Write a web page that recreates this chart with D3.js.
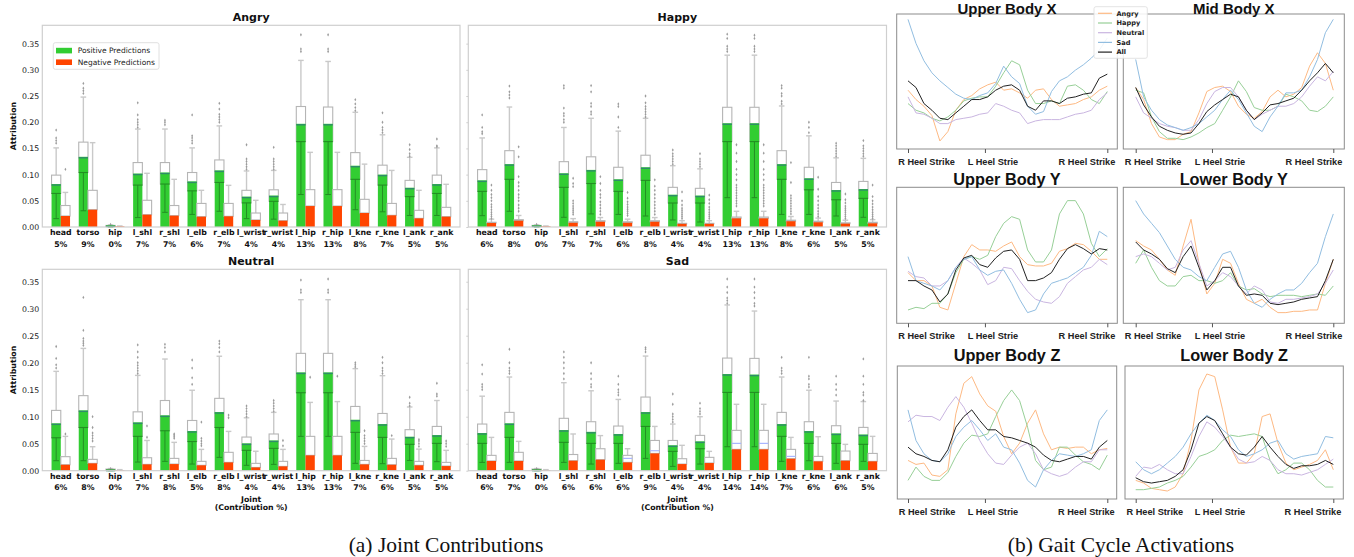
<!DOCTYPE html>
<html><head><meta charset="utf-8">
<script src="https://cdn.jsdelivr.net/npm/d3@7"></script>
<style>body{margin:0;background:#fff}</style>
</head><body>
<script>
// ---------------- (a) Joint contributions data ----------------
const joints = ["head","torso","hip","l_shl","r_shl","l_elb","r_elb","l_wrist","r_wrist","l_hip","r_hip","l_kne","r_kne","l_ank","r_ank"];
const yTicks = [0,0.05,0.10,0.15,0.20,0.25,0.30,0.35];
const topRowYMax = 0.385;
const bottomRowYMax = 0.373;

const angryPct   = [5,9,0,7,7,6,7,4,4,13,13,8,7,5,5];
const happyPct   = [6,8,0,7,7,6,8,4,4,13,13,8,6,5,5];
const neutralPct = [6,8,0,7,8,5,8,4,4,13,13,7,6,5,5];
const sadPct     = [6,7,0,6,6,6,9,4,4,14,14,7,6,6,5];

// Angry
const angryPosMean = [0.082,0.134,0.003,0.102,0.104,0.087,0.108,0.058,0.060,0.197,0.197,0.117,0.100,0.075,0.082];
const angryPosQ1   = [0.064,0.104,0.001,0.080,0.082,0.069,0.085,0.046,0.049,0.163,0.163,0.091,0.080,0.058,0.064];
const angryPosQ3   = [0.099,0.162,0.003,0.123,0.123,0.104,0.128,0.070,0.071,0.230,0.229,0.142,0.118,0.089,0.099];
const angryPosLo   = [0.016,0.031,0.000,0.018,0.028,0.024,0.030,0.016,0.015,0.062,0.062,0.033,0.029,0.022,0.022];
const angryPosHi   = [0.151,0.248,0.004,0.187,0.187,0.151,0.193,0.107,0.108,0.318,0.316,0.219,0.176,0.133,0.151];
const angryPosOut  = [[0.16,0.165,0.17,0.185],[0.255,0.26,0.265,0.274],[0.005],[0.19,0.195,0.2,0.205,0.214,0.237],[0.195,0.2,0.204],[0.16,0.165,0.17,0.174,0.214],[0.2,0.205,0.21,0.215,0.225,0.236],[0.11,0.115,0.12,0.125,0.13,0.157],[0.11,0.115,0.12,0.125,0.13,0.152],[0.335,0.34,0.367],[0.335,0.34,0.367],[0.222,0.228,0.235,0.243],[0.18,0.185,0.19,0.2,0.218],[0.135,0.14,0.148,0.157],[0.153,0.155,0.168]];
const angryNegMean = [0.021,0.033,0.001,0.0235,0.0216,0.0197,0.0204,0.0134,0.012,0.040,0.040,0.0267,0.0223,0.0165,0.0197];
const angryNegQ3   = [0.041,0.070,0.001,0.051,0.041,0.045,0.045,0.0267,0.0267,0.0713,0.0713,0.0528,0.045,0.0318,0.0375];
const angryNegHi   = [0.066,0.161,0.002,0.1025,0.091,0.070,0.0795,0.051,0.043,0.1425,0.1425,0.120,0.108,0.070,0.0815];
const angryNegOut  = [[0.11],[],[],[],[],[],[],[],[],[],[],[],[],[],[]];

// Happy
const happyPosMean = [0.089,0.120,0.003,0.1025,0.109,0.091,0.114,0.0617,0.060,0.198,0.198,0.120,0.093,0.0706,0.0725];
const happyPosQ1   = [0.068,0.091,0.001,0.0757,0.083,0.068,0.089,0.0458,0.0458,0.163,0.163,0.091,0.071,0.052,0.0547];
const happyPosQ3   = [0.1095,0.1457,0.003,0.1247,0.134,0.114,0.137,0.0757,0.0738,0.2285,0.2285,0.1457,0.114,0.085,0.087];
const happyPosLo   = [0.0216,0.030,0.000,0.0185,0.025,0.024,0.021,0.0134,0.0095,0.056,0.056,0.024,0.024,0.021,0.0185];
const happyPosHi   = [0.170,0.229,0.004,0.190,0.2075,0.183,0.2075,0.117,0.111,0.328,0.328,0.231,0.174,0.132,0.131];
const happyPosOut  = [[0.178,0.182,0.19,0.214],[0.246,0.252,0.258,0.269],[0.005],[0.2,0.205,0.212,0.217,0.227,0.265,0.27],[0.215,0.22,0.23,0.236,0.258,0.27],[0.19,0.21,0.23,0.235],[0.21,0.215,0.22,0.225,0.23,0.237,0.25],[0.12,0.125,0.13,0.135,0.14,0.147],[0.115,0.12,0.125,0.13,0.14],[0.335,0.34,0.345,0.36,0.368],[0.335,0.34,0.345,0.36,0.366],[0.235,0.24,0.25,0.255,0.265,0.27],[0.18,0.19,0.2],[0.135,0.14,0.145,0.15,0.155,0.16],[0.135,0.14,0.145,0.15,0.155,0.165]];
const happyNegMean = [0.0076,0.012,0.001,0.008,0.010,0.008,0.010,0.006,0.006,0.0165,0.0165,0.011,0.009,0.0064,0.007];
const happyNegQ3   = [0.009,0.014,0.001,0.010,0.012,0.010,0.012,0.007,0.007,0.019,0.019,0.013,0.011,0.008,0.009];
const happyNegHi   = [0.015,0.022,0.002,0.016,0.018,0.015,0.018,0.012,0.012,0.030,0.030,0.020,0.017,0.013,0.014];
const happyNegOut  = [[0.016,0.02,0.024,0.028,0.033,0.038,0.043,0.05,0.056,0.062,0.07,0.08],[0.03,0.036,0.042,0.05,0.056,0.062,0.07,0.078,0.085,0.096,0.134,0.153],[],[0.024,0.028,0.032,0.036,0.04,0.045,0.05,0.077,0.083,0.093],[0.024,0.03,0.036,0.042,0.048,0.056,0.062,0.07,0.083,0.096],[0.022,0.026,0.03,0.034,0.038,0.043,0.048,0.055,0.066],[0.024,0.03,0.036,0.042,0.048,0.055,0.062,0.07,0.078,0.09],[0.016,0.02,0.024,0.028,0.032,0.036,0.042,0.05,0.067],[0.016,0.02,0.024,0.028,0.033,0.038,0.045,0.052,0.061],[0.04,0.045,0.05,0.055,0.06,0.065,0.07,0.075,0.08,0.09,0.1,0.11,0.125,0.141,0.157],[0.04,0.045,0.05,0.055,0.06,0.065,0.07,0.075,0.08,0.09,0.1,0.11,0.125,0.141,0.157],[0.025,0.03,0.035,0.04,0.045,0.05,0.055,0.06,0.085,0.123],[0.02,0.025,0.03,0.036,0.042,0.05,0.058,0.072,0.095],[0.016,0.02,0.024,0.028,0.032,0.036,0.04,0.046,0.052,0.063],[0.016,0.02,0.024,0.028,0.033,0.038,0.044,0.05,0.058,0.08]];

// Neutral
const neutralPosMean = [0.0877,0.1117,0.002,0.0895,0.1025,0.0735,0.1086,0.0506,0.056,0.182,0.182,0.0944,0.0864,0.063,0.066];
const neutralPosQ1   = [0.061,0.080,0.001,0.0636,0.074,0.054,0.080,0.0377,0.0414,0.1444,0.1444,0.071,0.0617,0.0488,0.0506];
const neutralPosQ3   = [0.1117,0.139,0.003,0.109,0.130,0.093,0.134,0.0623,0.068,0.2173,0.2173,0.119,0.106,0.076,0.082];
const neutralPosLo   = [0.0185,0.0185,0.000,0.016,0.0173,0.0123,0.0247,0.010,0.0117,0.0636,0.0636,0.0136,0.013,0.019,0.0167];
const neutralPosHi   = [0.184,0.2265,0.004,0.1765,0.2068,0.149,0.212,0.098,0.108,0.3167,0.3167,0.189,0.176,0.118,0.130];
const neutralPosOut  = [[0.19,0.196,0.208,0.23],[0.232,0.236,0.24,0.245,0.26,0.321],[0.004],[0.18,0.185,0.19,0.195,0.2,0.21,0.22,0.233],[0.22,0.228,0.234],[0.16,0.172,0.19,0.205],[0.22,0.228,0.235,0.24],[0.1,0.105,0.11,0.115,0.12],[0.11,0.115,0.12,0.125,0.13],[0.33,0.335,0.353],[0.33,0.335,0.355],[0.192,0.196,0.2],[0.18,0.185,0.19,0.2,0.21],[0.12,0.125,0.136],[0.138,0.142,0.162]];
const neutralNegMean = [0.011,0.0136,0.001,0.0117,0.0123,0.010,0.0154,0.006,0.008,0.0284,0.0284,0.0117,0.011,0.010,0.0086];
const neutralNegQ3   = [0.026,0.021,0.001,0.024,0.0228,0.0173,0.034,0.0136,0.0173,0.0636,0.0636,0.019,0.0228,0.0173,0.0154];
const neutralNegHi   = [0.0636,0.0444,0.002,0.056,0.0525,0.0395,0.0728,0.036,0.0395,0.1265,0.128,0.045,0.0586,0.040,0.0377];
const neutralNegOut  = [[0.068],[0.055,0.06,0.065,0.07,0.08,0.1],[],[0.062,0.083],[0.06,0.063,0.066,0.068],[0.046,0.05,0.055,0.06,0.09],[0.098,0.103],[],[0.046,0.056],[0.173],[0.175],[0.05,0.055,0.06,0.065,0.074],[0.065],[0.045,0.05,0.055,0.058],[0.045,0.05,0.055]];

// Sad
const sadPosMean = [0.0698,0.0877,0.002,0.0753,0.072,0.068,0.1086,0.047,0.0543,0.179,0.178,0.0864,0.0735,0.069,0.067];
const sadPosQ1   = [0.0506,0.0617,0.001,0.0525,0.0506,0.0506,0.082,0.0358,0.0407,0.145,0.145,0.0636,0.0506,0.0506,0.0488];
const sadPosQ3   = [0.0864,0.108,0.003,0.097,0.0907,0.0827,0.1364,0.056,0.0654,0.2086,0.208,0.108,0.0907,0.0833,0.0802];
const sadPosLo   = [0.0154,0.0154,0.000,0.0154,0.0123,0.0136,0.0228,0.008,0.0123,0.0444,0.0444,0.0173,0.0185,0.0136,0.0173];
const sadPosHi   = [0.138,0.1735,0.004,0.163,0.148,0.132,0.2123,0.0864,0.100,0.307,0.2957,0.1735,0.149,0.129,0.128];
const sadPosOut  = [[0.15,0.155,0.16,0.179,0.196],[0.18,0.185,0.19,0.2,0.225],[0.004],[0.17,0.18,0.19,0.2,0.21,0.22],[0.155,0.16,0.17,0.18,0.2],[0.14,0.145,0.15,0.16,0.175],[0.22,0.225,0.228],[0.09,0.095,0.1,0.105,0.123,0.142],[0.105,0.11,0.115,0.125],[0.31,0.315,0.32,0.33,0.34,0.355],[0.305,0.31,0.32,0.33,0.34,0.355],[0.18,0.185,0.19,0.21],[0.155,0.16,0.17,0.175,0.21],[0.14,0.15,0.16,0.175],[0.13,0.14,0.145,0.16,0.175,0.207]];
const sadNegMean = [0.018,0.018,0.001,0.0185,0.0204,0.0154,0.032,0.0123,0.0142,0.0395,0.0395,0.0222,0.0173,0.0185,0.0173];
const sadNegMed  = [0.018,0.018,0.001,0.019,0.021,0.0228,0.037,0.0125,0.015,0.0506,0.0506,0.0265,0.0175,0.019,0.0175];
const sadNegQ3   = [0.0284,0.034,0.001,0.030,0.0407,0.0284,0.056,0.0222,0.0247,0.0747,0.0747,0.0395,0.0265,0.0364,0.032];
const sadNegHi   = [0.0617,0.0543,0.002,0.068,0.065,0.0407,0.082,0.047,0.0358,0.123,0.123,0.0617,0.063,0.0488,0.0636];
const sadNegOut  = [[],[],[],[],[],[],[],[],[],[],[],[],[],[],[]];

// ---------------- (b) Gait cycle activation data ----------------
const gaitPhase = [0,4,8,12,16,20,24,28,32,36,40,44,48,52,56,60,64,68,72,76,80,84,88,92,96,100];
const gaitTicks = [0,38.6,100];
const gaitTickLabels = ["R Heel Strike","L Heel Strie","R Heel Strike"];
const emotions = ["Angry","Happy","Neutral","Sad","All"];

const ubxAngry   = [44,37,32,25,6,13,29,37,40,45,48,50,44,45,42,38,44,45,37,32,33,34,37,39,44,47];
const ubxHappy   = [34,29,27,23,21,24,29,36,38,39,39,47,57,66,63,44,34,34,36,34,47,48,44,37,34,43];
const ubxNeutral = [39,27,26,23,19,19,22,23,24,26,27,34,32,29,27,19,21,22,22,22,24,26,27,29,37,42];
const ubxSad     = [97,79,66,57,51,46,41,38,37,40,42,49,62,54,49,32,26,28,43,51,54,59,63,68,74,83];
const ubxAll     = [51,46,34,29,23,22,27,32,37,37,39,44,47,48,44,32,29,36,36,34,38,39,41,42,53,56];

const mbxAngry   = [46,37,19,9,7,7,11,13,27,43,46,47,43,32,26,23,28,39,44,39,41,46,62,72,64,44];
const mbxHappy   = [44,42,24,13,8,8,7,9,12,16,19,29,39,51,43,31,29,29,32,41,39,36,29,28,32,39];
const mbxNeutral = [39,27,23,19,17,16,14,14,22,34,43,46,46,39,29,22,26,29,32,32,34,39,47,54,51,58];
const mbxSad     = [67,39,29,22,18,16,14,16,19,24,29,37,44,37,27,17,13,24,32,42,42,44,54,67,87,97];
const mbxAll     = [46,33,24,17,14,12,11,12,19,28,33,37,41,39,29,22,27,33,34,36,38,44,51,57,64,57];

const ubyAngry   = [38,32,32,28,12,10,30,50,59,55,55,54,58,61,50,44,43,43,45,54,56,60,59,54,48,48];
const ubyHappy   = [10,12,11,15,15,22,38,48,50,48,51,65,75,80,78,55,46,46,55,82,92,92,82,60,50,56];
const ubyNeutral = [39,35,34,28,28,32,42,49,45,40,29,32,42,41,32,24,18,16,15,20,30,35,40,42,48,44];
const ubySad     = [50,32,30,28,25,32,42,48,50,40,36,39,40,30,18,8,10,22,30,32,34,38,42,51,69,65];
const ubyAll     = [32,32,28,25,16,22,40,49,51,44,42,49,54,55,48,32,32,34,38,48,56,59,56,52,56,55];

const lbyAngry   = [62,58,55,48,40,36,58,78,45,22,30,48,45,30,18,15,18,12,8,8,9,9,10,10,30,48];
const lbyHappy   = [45,55,42,32,28,28,35,36,32,32,30,32,38,28,25,26,22,20,21,21,21,20,21,22,21,28];
const lbyNeutral = [50,52,50,45,40,42,55,62,45,28,32,38,35,28,22,28,25,16,15,18,18,19,20,22,30,40];
const lbySad     = [92,82,75,68,58,48,42,40,35,32,42,52,54,42,25,15,12,18,22,25,25,30,38,45,65,82];
const lbyAll     = [61,55,52,48,41,38,50,58,42,25,32,42,42,28,21,22,21,15,14,15,16,18,19,20,32,48];

const ubzAngry   = [29,26,27,18,17,22,64,87,92,79,70,66,47,34,42,57,67,49,37,39,38,39,39,34,37,38];
const ubzHappy   = [14,24,17,14,14,20,32,42,48,47,49,62,74,82,74,54,29,22,24,39,39,33,28,26,22,33];
const ubzNeutral = [58,63,62,62,59,69,77,69,57,44,34,27,26,33,39,42,34,22,19,17,19,24,28,28,37,37];
const ubzSad     = [67,44,34,29,28,34,47,54,59,52,44,49,39,37,27,14,9,22,29,34,33,32,34,37,59,67];
const ubzAll     = [39,34,32,29,28,37,54,62,67,59,52,52,47,46,44,42,39,33,29,28,30,32,32,30,39,44];

const lbzAngry   = [14,12,8,7,6,9,19,44,82,94,92,67,39,27,27,34,62,64,42,27,22,24,26,29,37,22];
const lbzHappy   = [7,7,8,9,12,14,17,24,32,34,37,44,48,47,48,49,47,29,19,22,27,27,22,14,9,9];
const lbzNeutral = [17,24,23,26,22,19,19,32,47,58,54,47,39,30,27,28,32,29,22,19,19,18,20,22,26,30];
const lbzSad     = [28,22,19,22,27,32,39,49,57,63,59,52,47,37,32,34,37,42,44,34,30,32,33,34,47,46];
const lbzAll     = [16,13,12,13,14,17,22,37,57,62,59,49,39,34,33,39,47,39,32,26,23,25,25,26,29,26];

// ---------------- drawing ----------------
const W = 1354, H = 557;
const svg = d3.select("body").append("svg").attr("width", W).attr("height", H);
svg.append("rect").attr("width", W).attr("height", H).attr("fill", "#fff");

const GREEN = "#32cd32", ORANGE = "#ff4500";

function series(mean, q1, q3, lo, hi, out, med) { return {mean, q1, q3, lo, hi, out, med}; }

const barPanels = [
  {title:"Angry", x0:42.3, x1:460, y0:25.3, y1:227, ymax:topRowYMax, labels:true, xtitle:false, legend:true, pct:angryPct,
   pos:series(angryPosMean,angryPosQ1,angryPosQ3,angryPosLo,angryPosHi,angryPosOut),
   neg:series(angryNegMean,null,angryNegQ3,null,angryNegHi,angryNegOut)},
  {title:"Happy", x0:468.3, x1:886.5, y0:25.3, y1:227, ymax:topRowYMax, labels:false, xtitle:false, legend:false, pct:happyPct,
   pos:series(happyPosMean,happyPosQ1,happyPosQ3,happyPosLo,happyPosHi,happyPosOut),
   neg:series(happyNegMean,null,happyNegQ3,null,happyNegHi,happyNegOut)},
  {title:"Neutral", x0:42.3, x1:460, y0:269.3, y1:470.7, ymax:bottomRowYMax, labels:true, xtitle:true, legend:false, pct:neutralPct,
   pos:series(neutralPosMean,neutralPosQ1,neutralPosQ3,neutralPosLo,neutralPosHi,neutralPosOut),
   neg:series(neutralNegMean,null,neutralNegQ3,null,neutralNegHi,neutralNegOut)},
  {title:"Sad", x0:468.3, x1:886.5, y0:269.3, y1:470.7, ymax:bottomRowYMax, labels:false, xtitle:true, legend:false, pct:sadPct,
   pos:series(sadPosMean,sadPosQ1,sadPosQ3,sadPosLo,sadPosHi,sadPosOut),
   neg:series(sadNegMean,null,sadNegQ3,null,sadNegHi,sadNegOut,sadNegMed)}
];

const diamond = d3.symbol().type(d3.symbolDiamond).size(3.2);

function drawSeries(g, left, bw, y, s, i, isPos) {
  const xc = left + bw / 2;
  const grey = "#c9c9c9";
  const base = isPos ? s.q1[i] : s.mean[i];
  // upper whisker + cap
  g.append("line").attr("x1", xc).attr("x2", xc).attr("y1", y(s.q3[i])).attr("y2", y(s.hi[i])).attr("stroke", grey).attr("stroke-width", 1.4);
  g.append("line").attr("x1", xc - 2.8).attr("x2", xc + 2.8).attr("y1", y(s.hi[i])).attr("y2", y(s.hi[i])).attr("stroke", grey).attr("stroke-width", 1.4);
  // box (Q1..Q3)
  g.append("rect").attr("x", left).attr("y", y(s.q3[i])).attr("width", bw)
    .attr("height", Math.max(0, y(base) - y(s.q3[i])))
    .attr("fill", "#fff").attr("stroke", "#b5b5b5").attr("stroke-width", 1.1);
  // outliers
  g.selectAll(null).data(s.out[i]).join("path")
    .attr("transform", d => `translate(${xc},${y(d)})`).attr("d", diamond)
    .attr("fill", "#9c9c9c").attr("stroke", "none");
  // bar
  g.append("rect").attr("x", left).attr("y", y(s.mean[i])).attr("width", bw)
    .attr("height", y(0) - y(s.mean[i])).attr("fill", isPos ? GREEN : ORANGE);
  if (isPos) {
    const dk = "#238f23";
    g.append("line").attr("x1", left).attr("x2", left + bw).attr("y1", y(s.q1[i])).attr("y2", y(s.q1[i])).attr("stroke", dk).attr("stroke-width", 1.1);
    g.append("line").attr("x1", xc).attr("x2", xc).attr("y1", y(s.q1[i])).attr("y2", y(s.lo[i])).attr("stroke", dk).attr("stroke-width", 1);
    g.append("line").attr("x1", xc - 2.8).attr("x2", xc + 2.8).attr("y1", y(s.lo[i])).attr("y2", y(s.lo[i])).attr("stroke", dk).attr("stroke-width", 1);
    g.append("line").attr("x1", left).attr("x2", left + bw).attr("y1", y(s.mean[i]) + 1).attr("y2", y(s.mean[i]) + 1).attr("stroke", "#2f8c6a").attr("stroke-width", 1.4);
  } else if (s.med && s.med[i] > s.mean[i] + 0.002) {
    g.append("line").attr("x1", left).attr("x2", left + bw).attr("y1", y(s.med[i])).attr("y2", y(s.med[i])).attr("stroke", "#a9b6ff").attr("stroke-width", 1.2);
  }
}

barPanels.forEach(p => {
  const g = svg.append("g").attr("font-family", "DejaVu Sans");
  const x = d3.scaleBand().domain(joints).range([p.x0, p.x1]).paddingInner(0).paddingOuter(0.18);
  const y = d3.scaleLinear().domain([0, p.ymax]).range([p.y1, p.y0]);
  const bw = x.step() * 0.34;
  joints.forEach((j, i) => {
    const cx = x(j) + x.bandwidth() / 2;
    drawSeries(g, cx - bw, bw, y, p.pos, i, true);
    drawSeries(g, cx, bw, y, p.neg, i, false);
  });
  // frame
  g.append("rect").attr("x", p.x0).attr("y", p.y0).attr("width", p.x1 - p.x0).attr("height", p.y1 - p.y0)
    .attr("fill", "none").attr("stroke", "#cfcfcf").attr("stroke-width", 1.2);
  // y axis
  const ya = g.append("g").attr("transform", `translate(${p.x0},0)`)
    .call(d3.axisLeft(y).tickValues(yTicks).tickFormat(p.labels ? d3.format(".2f") : "").tickSize(p.labels ? 0 : 2).tickPadding(3));
  ya.select(".domain").remove();
  ya.selectAll("line").attr("stroke", "#cfcfcf");
  ya.selectAll("text").attr("font-size", 7.8).attr("fill", "#222").attr("font-family", "DejaVu Sans");
  // x axis with two-line labels
  const xa = g.append("g").attr("transform", `translate(0,${p.y1})`)
    .call(d3.axisBottom(x).tickSize(0).tickPadding(0).tickFormat(""));
  xa.select(".domain").remove();
  xa.selectAll(".tick").each(function(d, i) {
    const t = d3.select(this).append("text").attr("fill", "#111").attr("font-family", "DejaVu Sans")
      .attr("font-weight", "bold").attr("font-size", 7.8).attr("text-anchor", "middle");
    t.append("tspan").attr("x", 0).attr("y", 8.2).text(d);
    t.append("tspan").attr("x", 0).attr("y", 19.8).text(p.pct[i] + "%");
  });
  // title
  g.append("text").attr("x", (p.x0 + p.x1) / 2).attr("y", p.y0 - 4.4).attr("text-anchor", "middle")
    .attr("font-weight", "bold").attr("font-size", 11).attr("fill", "#111").text(p.title);
  // y label
  if (p.labels) {
    g.append("text").attr("transform", `translate(16,${(p.y0 + p.y1) / 2}) rotate(-90)`).attr("text-anchor", "middle")
      .attr("font-weight", "bold").attr("font-size", 7.8).attr("fill", "#111").text("Attribution");
  }
  if (p.xtitle) {
    const cx = (p.x0 + p.x1) / 2;
    g.append("text").attr("x", cx).attr("y", p.y1 + 31.3).attr("text-anchor", "middle").attr("font-weight", "bold")
      .attr("font-size", 7.8).attr("fill", "#111").text("Joint");
    g.append("text").attr("x", cx).attr("y", p.y1 + 39.3).attr("text-anchor", "middle").attr("font-weight", "bold")
      .attr("font-size", 7.8).attr("fill", "#111").text("(Contribution %)");
  }
  if (p.legend) {
    const lg = g.append("g");
    lg.append("rect").attr("x", 53.3).attr("y", 42.7).attr("width", 105.7).attr("height", 26.6).attr("rx", 2)
      .attr("fill", "#fff").attr("stroke", "#d8d8d8").attr("stroke-width", 0.8);
    [["Positive Predictions", GREEN], ["Negative Predictions", ORANGE]].forEach((e, k) => {
      lg.append("rect").attr("x", 56).attr("y", 47.8 + k * 11.6).attr("width", 16).attr("height", 5.6).attr("fill", e[1]);
      lg.append("text").attr("x", 77.7).attr("y", 53.2 + k * 11.6).attr("font-size", 7.5).attr("fill", "#222").text(e[0]);
    });
  }
});

// captions
svg.append("text").attr("x", 446).attr("y", 552).attr("text-anchor", "middle")
  .attr("font-family", "Liberation Serif").attr("font-size", 21.5).attr("fill", "#111").text("(a) Joint Contributions");
svg.append("text").attr("x", 1121).attr("y", 552).attr("text-anchor", "middle")
  .attr("font-family", "Liberation Serif").attr("font-size", 21.5).attr("fill", "#111").text("(b) Gait Cycle Activations");

// ---------------- gait panels ----------------
const lineColors = {Angry:"#fdb983", Happy:"#97cf97", Neutral:"#c9b5e0", Sad:"#91bde0", All:"#222"};
const LEFT_X = [908, 1107.3], RIGHT_X = [1135.7, 1333.3];
const gaitPanels = [
  {title:"Upper Body X", box:[896.7,14,1117.3,149], xr:LEFT_X, ytop:101, titleY:13.6, fs:15, series:[ubxAngry,ubxHappy,ubxNeutral,ubxSad,ubxAll]},
  {title:"Mid Body X", box:[1123.3,14,1344.3,149], xr:RIGHT_X, ytop:101, titleY:13.6, fs:15, series:[mbxAngry,mbxHappy,mbxNeutral,mbxSad,mbxAll]},
  {title:"Upper Body Y", box:[896.7,187.3,1117.3,323.3], xr:LEFT_X, ytop:102, titleY:185, fs:16.3, series:[ubyAngry,ubyHappy,ubyNeutral,ubySad,ubyAll]},
  {title:"Lower Body Y", box:[1123.3,187.3,1344.3,323.3], xr:RIGHT_X, ytop:102, titleY:185, fs:16.3, series:[lbyAngry,lbyHappy,lbyNeutral,lbySad,lbyAll]},
  {title:"Upper Body Z", box:[897.3,366,1116.7,499], xr:LEFT_X, ytop:100, titleY:361, fs:16.3, series:[ubzAngry,ubzHappy,ubzNeutral,ubzSad,ubzAll]},
  {title:"Lower Body Z", box:[1125,366,1343.3,499], xr:RIGHT_X, ytop:100, titleY:361, fs:16.3, series:[lbzAngry,lbzHappy,lbzNeutral,lbzSad,lbzAll]}
];

gaitPanels.forEach((p, pi) => {
  const [bx0, by0, bx1, by1] = p.box;
  const g = svg.append("g");
  const x = d3.scaleLinear().domain([0, 100]).range(p.xr);
  const y = d3.scaleLinear().domain([0, p.ytop]).range([by1, by0]);
  const cid = "clip" + pi;
  g.append("clipPath").attr("id", cid).append("rect").attr("x", bx0).attr("y", by0).attr("width", bx1 - bx0).attr("height", by1 - by0);
  const line = d3.line().x((d, k) => x(gaitPhase[k])).y(d => y(d));
  const lg = g.append("g").attr("clip-path", `url(#${cid})`);
  p.series.forEach((s, k) => {
    lg.append("path").attr("d", line(s)).attr("fill", "none")
      .attr("stroke", lineColors[emotions[k]]).attr("stroke-width", 1);
  });
  g.append("rect").attr("x", bx0).attr("y", by0).attr("width", bx1 - bx0).attr("height", by1 - by0)
    .attr("fill", "none").attr("stroke", "#8c8c8c").attr("stroke-width", 1);
  // ticks
  const xa = g.append("g").attr("transform", `translate(0,${by1})`)
    .call(d3.axisBottom(x).tickValues(gaitTicks).tickSize(4).tickFormat(""));
  xa.select(".domain").remove();
  xa.selectAll("line").attr("stroke", "#555");
  gaitTicks.forEach((t, k) => {
    const tx = k === 0 ? bx0 + 1.5 : (k === 2 ? bx1 - 2 : x(t) + 8);
    g.append("text").attr("x", tx).attr("y", by1 + 16).attr("text-anchor", k === 0 ? "start" : (k === 2 ? "end" : "middle"))
      .attr("font-family", "Liberation Sans").attr("font-weight", "bold").attr("font-size", 9.2).attr("fill", "#222")
      .text(gaitTickLabels[k]);
  });
  g.append("text").attr("x", (bx0 + bx1) / 2).attr("y", p.titleY).attr("text-anchor", "middle")
    .attr("font-family", "Liberation Sans").attr("font-weight", "bold").attr("font-size", p.fs).attr("fill", "#111").text(p.title);
});

// gait legend
const gl = svg.append("g").attr("font-family", "DejaVu Sans");
gl.append("rect").attr("x", 1094).attr("y", 6.7).attr("width", 53.3).attr("height", 51.6).attr("rx", 2)
  .attr("fill", "#fff").attr("fill-opacity", 0.85).attr("stroke", "#dcdcdc").attr("stroke-width", 0.8);
emotions.forEach((e, k) => {
  const cy = 13.3 + k * 9.7;
  gl.append("line").attr("x1", 1098).attr("x2", 1112).attr("y1", cy).attr("y2", cy).attr("stroke", lineColors[e]).attr("stroke-width", 1.2);
  gl.append("text").attr("x", 1116.5).attr("y", cy + 2.3).attr("font-size", 6.6).attr("font-weight", "bold").attr("fill", "#222").text(e);
});
</script>
</body></html>
